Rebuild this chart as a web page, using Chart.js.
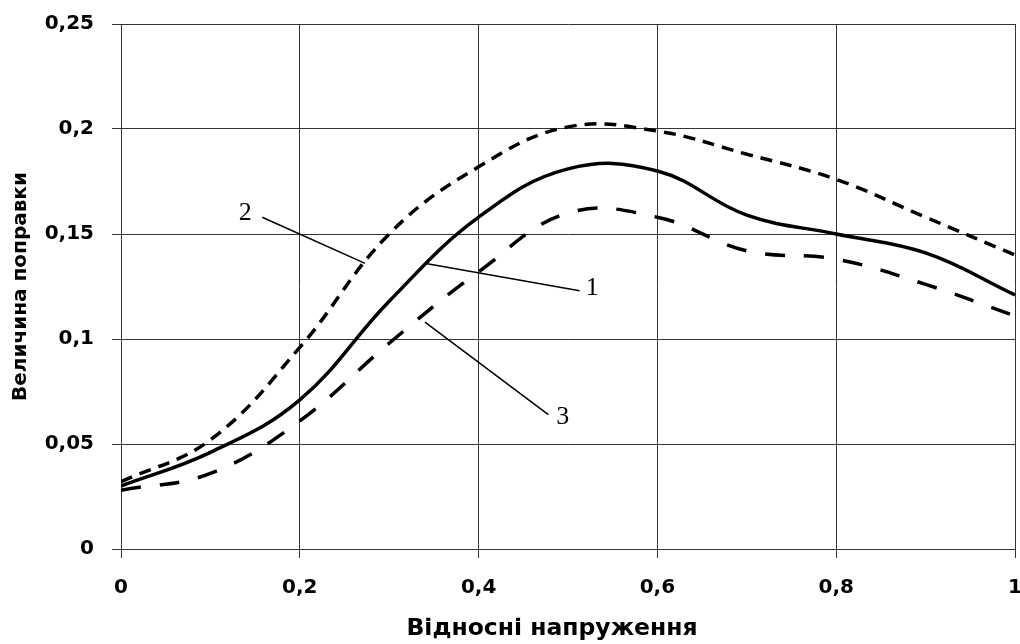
<!DOCTYPE html>
<html>
<head>
<meta charset="utf-8">
<script src="https://cdn.jsdelivr.net/npm/chart.js@4"></script>
<style>
  html, body { margin: 0; padding: 0; background: #fff; }
  #wrap { width: 1020px; height: 644px; }
</style>
</head>
<body>
<div id="wrap"><canvas id="chart" width="1020" height="644"></canvas></div>
<script>
// relative voltage (x) and correction values for each curve
var xs = [0, 0.1, 0.2, 0.3, 0.4, 0.5, 0.6, 0.7, 0.8, 0.9, 1];
var curve1 = [0.030, 0.046, 0.071, 0.118, 0.158, 0.181, 0.180, 0.159, 0.150, 0.141, 0.121];
var curve2 = [0.032, 0.052, 0.096, 0.150, 0.182, 0.201, 0.199, 0.188, 0.176, 0.158, 0.140];
var curve3 = [0.028, 0.036, 0.061, 0.098, 0.132, 0.160, 0.158, 0.142, 0.138, 0.126, 0.111];

var xTicks = [0, 0.2, 0.4, 0.6, 0.8, 1];
var yTicks = [0, 0.05, 0.1, 0.15, 0.2, 0.25];

var xTitle = "Відносні напруження";
var yTitle = "Величина поправки";

// curve number labels with leader lines, in data units
var callouts = [
  { text: "2", at: [0.139, 0.160], from: [0.158, 0.158], to: [0.273, 0.136] },
  { text: "1", at: [0.527, 0.124], from: [0.513, 0.123], to: [0.341, 0.136] },
  { text: "3", at: [0.494, 0.063], from: [0.478, 0.064], to: [0.340, 0.108] }
];

function pts(ys) {
  return xs.map(function (x, i) { return { x: x, y: ys[i] }; });
}

function fmt(v) {
  return String(Math.round(v * 100) / 100).replace(".", ",");
}

var gridColor = "#333";
var tickFont = { family: "'DejaVu Sans', sans-serif", size: 20, weight: "bold" };

var calloutPlugin = {
  id: "callouts",
  afterDatasetsDraw: function (chart) {
    var ctx = chart.ctx;
    var sx = chart.scales.x, sy = chart.scales.y;
    ctx.save();
    ctx.strokeStyle = "#000";
    ctx.lineWidth = 1.5;
    ctx.fillStyle = "#000";
    ctx.font = "26px 'Liberation Serif', serif";
    ctx.textAlign = "center";
    ctx.textBaseline = "middle";
    callouts.forEach(function (c) {
      ctx.beginPath();
      ctx.moveTo(sx.getPixelForValue(c.from[0]), sy.getPixelForValue(c.from[1]));
      ctx.lineTo(sx.getPixelForValue(c.to[0]), sy.getPixelForValue(c.to[1]));
      ctx.stroke();
      ctx.fillText(c.text, sx.getPixelForValue(c.at[0]), sy.getPixelForValue(c.at[1]));
    });
    // x axis title sits a little left of the plot centre in the original
    ctx.font = "bold 23.5px 'DejaVu Sans', sans-serif";
    ctx.textBaseline = "alphabetic";
    ctx.fillText(xTitle, 552, 635);
    ctx.restore();
  }
};

new Chart(document.getElementById("chart"), {
  type: "line",
  data: {
    datasets: [
      { label: "1", data: pts(curve1), borderColor: "#000", borderWidth: 3.5, tension: 0.4 },
      { label: "2", data: pts(curve2), borderColor: "#000", borderWidth: 3.5, borderDash: [12, 8], tension: 0.4 },
      { label: "3", data: pts(curve3), borderColor: "#000", borderWidth: 3.5, borderDash: [20, 19], tension: 0.4 }
    ]
  },
  options: {
    responsive: false,
    animation: false,
    events: [],
    elements: { point: { radius: 0 } },
    layout: { padding: { top: 24, right: 5, left: 0, bottom: 0 } },
    plugins: { legend: { display: false }, tooltip: { enabled: false } },
    scales: {
      x: {
        type: "linear",
        min: 0,
        max: 1,
        afterBuildTicks: function (s) { s.ticks = xTicks.map(function (v) { return { value: v }; }); },
        afterFit: function (s) { s.height = 95; s.paddingLeft = 0; s.paddingRight = 0; },
        grid: { color: gridColor, lineWidth: 1, tickLength: 9 },
        border: { color: gridColor, width: 1 },
        ticks: { color: "#000", font: tickFont, padding: 18, maxRotation: 0, callback: fmt }
      },
      y: {
        min: 0,
        max: 0.25,
        afterBuildTicks: function (s) { s.ticks = yTicks.map(function (v) { return { value: v }; }); },
        afterFit: function (s) { s.width = 121; s.paddingTop = 0; s.paddingBottom = 0; },
        grid: { color: gridColor, lineWidth: 1, tickLength: 9 },
        border: { color: gridColor, width: 1 },
        ticks: { color: "#000", font: tickFont, padding: 18, callback: fmt },
        title: {
          display: true,
          text: yTitle,
          color: "#000",
          font: { family: "'DejaVu Sans', sans-serif", size: 20, weight: "bold" },
          padding: { top: 9, bottom: 0 }
        }
      }
    }
  },
  plugins: [calloutPlugin]
});
</script>
</body>
</html>
